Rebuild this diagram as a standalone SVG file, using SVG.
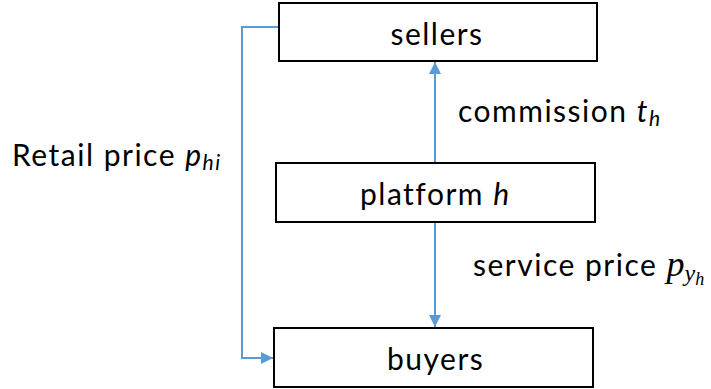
<svg xmlns="http://www.w3.org/2000/svg" width="711" height="389" viewBox="0 0 711 389">
<style>
.box{fill:#fff;stroke:#000;stroke-width:2}
.t{font-family:Lato,"Open Sans","Liberation Sans",sans-serif;font-size:30px;letter-spacing:1.5px;fill:#000}
.m{font-family:"Liberation Serif","DejaVu Serif",serif;font-style:italic;letter-spacing:0}
.c{fill:none;stroke:#5B9BD5;stroke-width:2}
</style>
<defs>
<marker id="ah" viewBox="0 0 10 10" refX="10" refY="5" markerWidth="6" markerHeight="6" markerUnits="strokeWidth" orient="auto">
<path d="M0,0 L10,5 L0,10 z" fill="#5B9BD5"/>
</marker>
</defs>
<g id="connectors">
<line class="c" x1="435" y1="163" x2="435" y2="62" marker-end="url(#ah)"/>
<line class="c" x1="435" y1="222" x2="435" y2="327" marker-end="url(#ah)"/>
<polyline class="c" points="279,27 242,27 242,358 273,358" marker-end="url(#ah)"/>
</g>
<g id="sellers">
<rect class="box" x="279" y="3" width="318" height="58"/>
<text class="t" x="437" y="45" text-anchor="middle">sellers</text>
</g>
<g id="platform">
<rect class="box" x="276" y="163" width="319" height="59"/>
<text class="t" x="360" y="205">platform <tspan font-style="italic">h</tspan></text>
</g>
<g id="buyers">
<rect class="box" x="274" y="328" width="319" height="59"/>
<text class="t" x="387" y="370">buyers</text>
</g>
<g id="labels">
<text class="t" x="458" y="122">commission <tspan font-style="italic">t</tspan><tspan font-style="italic" font-size="21" dy="4">h</tspan></text>
<text class="t" x="12" y="166">Retail price <tspan font-style="italic">p</tspan><tspan font-style="italic" font-size="21" dy="4">hi</tspan></text>
<text class="t" x="473" y="276">service price <tspan class="m" font-size="36">p</tspan><tspan class="m" font-size="24" dy="5">y</tspan><tspan class="m" font-size="18" dy="4">h</tspan></text>
</g>
</svg>
